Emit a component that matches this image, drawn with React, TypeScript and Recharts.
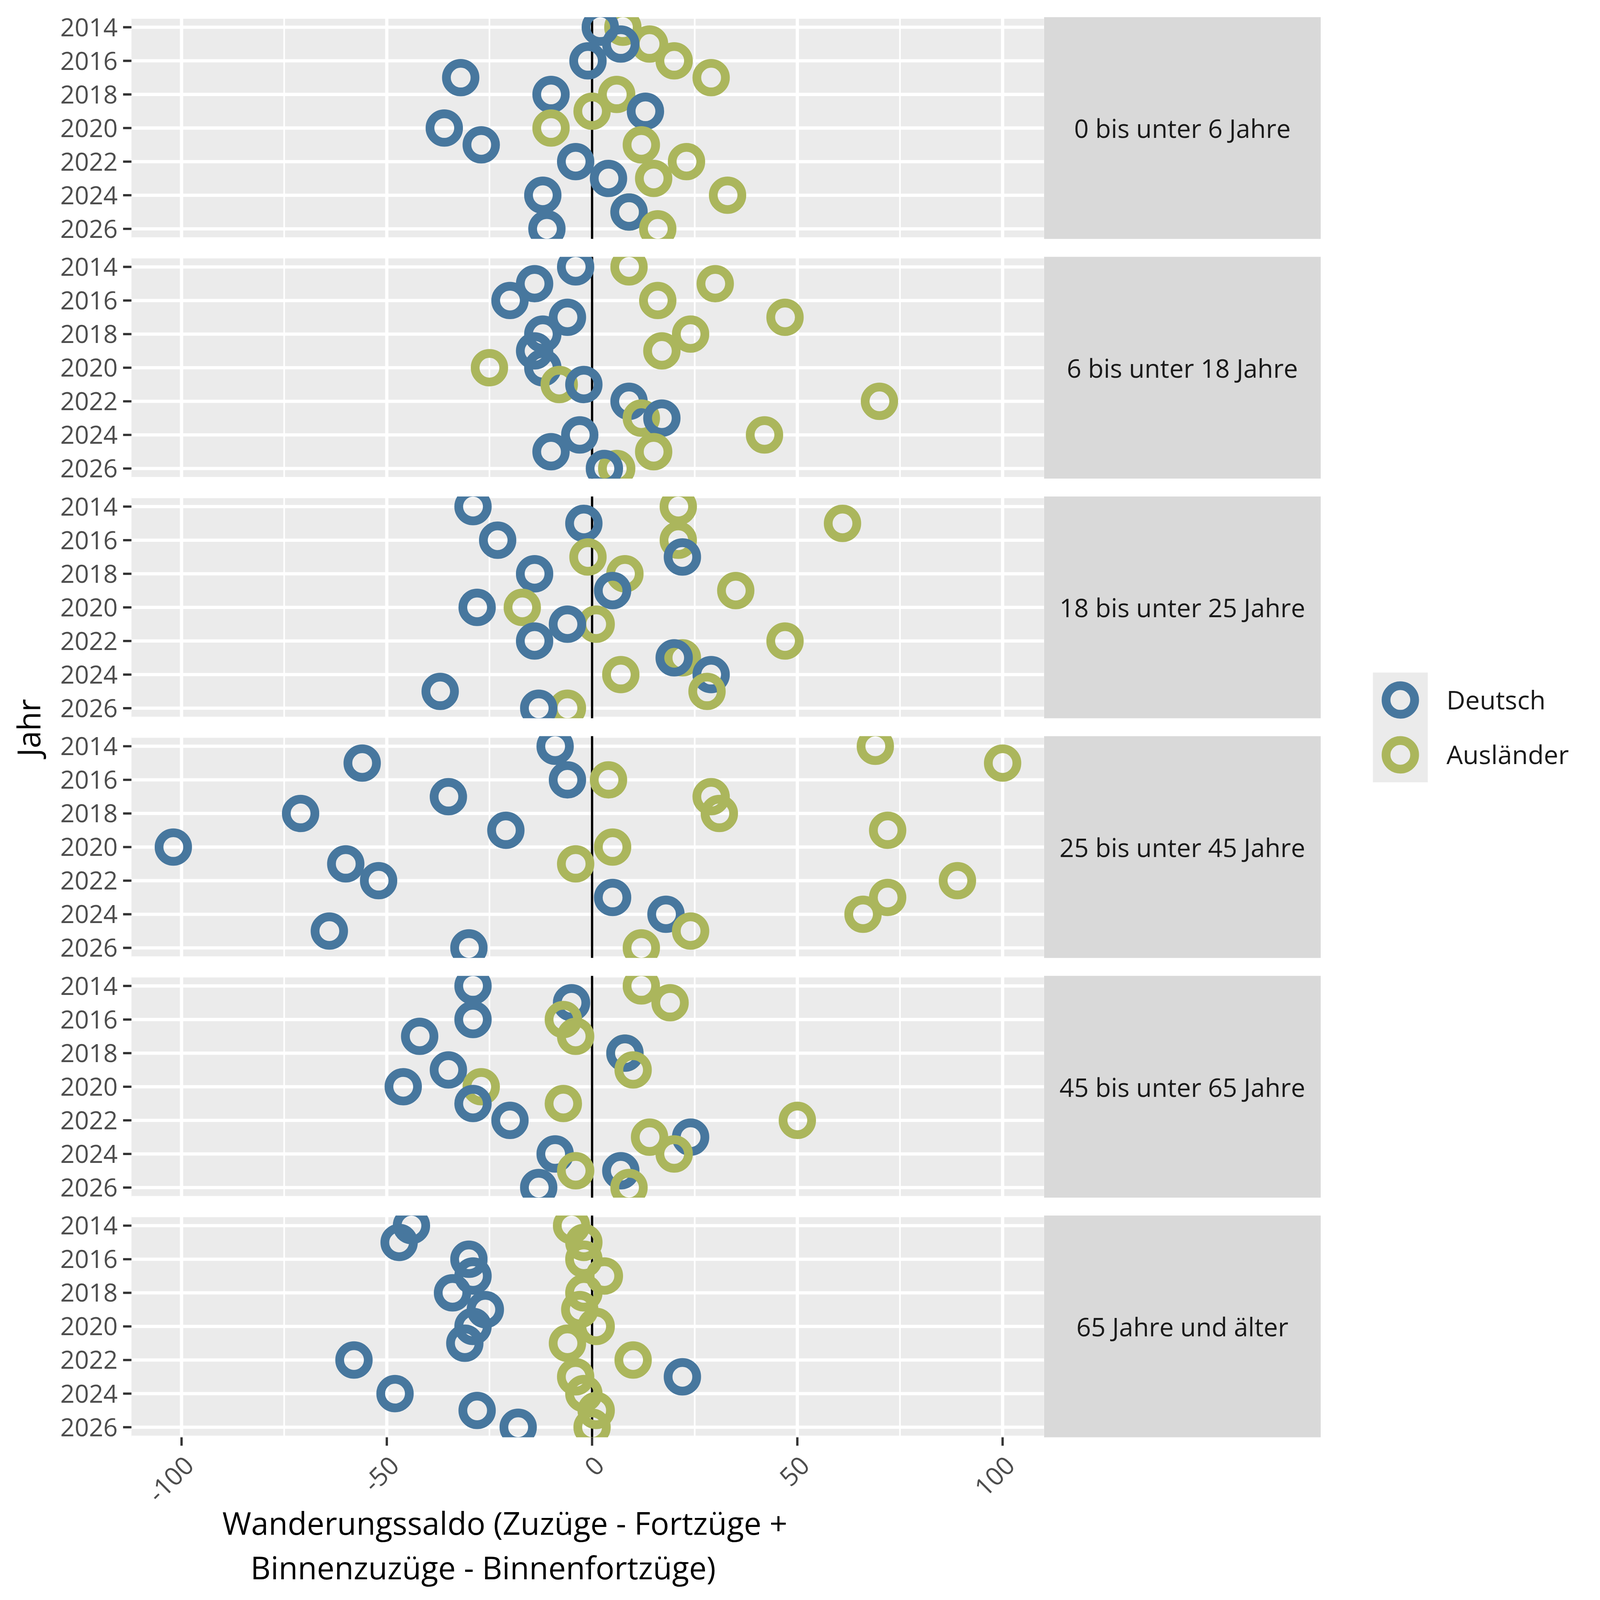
import { ScatterChart, Scatter, XAxis, YAxis, CartesianGrid, ReferenceLine } from 'recharts';

// Jahre (y-Achse) und Altersgruppen (Facetten)
const YEARS = [2014, 2015, 2016, 2017, 2018, 2019, 2020, 2021, 2022, 2023, 2024, 2025, 2026];
const Y_TICKS = [2014, 2016, 2018, 2020, 2022, 2024, 2026];
const X_TICKS = [-100, -50, 0, 50, 100];
const X_MINOR = [-75, -25, 25, 75];
const X_MAJOR_GRID = [-100, -50, 50, 100];

const AGE_GROUPS = [
  '0 bis unter 6 Jahre',
  '6 bis unter 18 Jahre',
  '18 bis unter 25 Jahre',
  '25 bis unter 45 Jahre',
  '45 bis unter 65 Jahre',
  '65 Jahre und älter',
];

// Wanderungssaldo je Jahr, Deutsche / Ausländer
const deutsch0to6 = [2, 7, -1, -32, -10, 13, -36, -27, -4, 4, -12, 9, -11];
const auslaender0to6 = [7.5, 14, 20, 29, 6, 0, -10, 12, 23, 15, 33, 9, 16];

const deutsch6to18 = [-4, -14, -20, -6, -12, -14, -12, -2, 9, 17, -3, -10, 3];
const auslaender6to18 = [9, 30, 16, 47, 24, 17, -25, -8, 70, 12, 42, 15, 6];

const deutsch18to25 = [-29, -2, -23, 22, -14, 5, -28, -6, -14, 20, 29, -37, -13];
const auslaender18to25 = [21, 61, 21, -1, 8, 35, -17, 1, 47, 22, 7, 28, -6];

const deutsch25to45 = [-9, -56, -6, -35, -71, -21, -102, -60, -52, 5, 18, -64, -30];
const auslaender25to45 = [69, 100, 4, 29, 31, 72, 5, -4, 89, 72, 66, 24, 12];

const deutsch45to65 = [-29, -5, -29, -42, 8, -35, -46, -29, -20, 24, -9, 7, -13];
const auslaender45to65 = [12, 19, -7, -4, 8, 10, -27, -7, 50, 14, 20, -4, 9];

const deutsch65plus = [-44, -47, -30, -29, -34, -26, -29, -31, -58, 22, -48, -28, -18];
const auslaender65plus = [-5, -2, -2, 3, -2, -3, 1, -6, 10, -4, -2, 1, 0];

const SERIES = [
  [deutsch0to6, auslaender0to6],
  [deutsch6to18, auslaender6to18],
  [deutsch18to25, auslaender18to25],
  [deutsch25to45, auslaender25to45],
  [deutsch45to65, auslaender45to65],
  [deutsch65plus, auslaender65plus],
];

const BLUE = '#47779E';
const GREEN = '#ABB65C';
const FONT = "'Open Sans', sans-serif";

// layout (px, in picture coordinates; the whole thing is scaled to fit the photographed area)
const FIT = 4097 / 4200;
const PANEL_TOP = 45;
const PANEL_STEP = 629;
const PANEL_H = 582;
const PAD = 40; // room above/below each panel so tick labels stay inside the svg
const PLOT_LEFT = 345;
const PLOT_RIGHT = 2740;
const STRIP_RIGHT = 3466;
const X_AXIS_H = 260;

// ggplot draws rows in order: year by year, Ausländer first, then Deutsch on top
function buildRows(d: number[], a: number[]) {
  return YEARS.flatMap((yr, i) => [
    { x: a[i], y: yr, nat: 'A' },
    { x: d[i], y: yr, nat: 'D' },
  ]);
}

const Ring = (props: any) => {
  const { cx, cy, payload } = props;
  if (cx == null || cy == null) return null;
  return (
    <circle cx={cx} cy={cy} r={37.5} fill="none"
      stroke={payload?.nat === 'D' ? BLUE : GREEN} strokeWidth={23} />
  );
};

const XTick = (props: any) => {
  const { x, y, payload } = props;
  const ax = x + 18;
  const ay = y + 38;
  return (
    <text x={ax} y={ay} transform={`rotate(-45, ${ax}, ${ay})`} textAnchor="end"
      dominantBaseline="central" fontSize={67} fill="#4D4D4D" fontFamily={FONT}>
      {payload.value}
    </text>
  );
};

function Panel({ idx }: { idx: number }) {
  const last = idx === AGE_GROUPS.length - 1;
  const [d, a] = SERIES[idx];
  const rows = buildRows(d, a);
  return (
    <div style={{ position: 'absolute', left: 0, top: PANEL_TOP + idx * PANEL_STEP - PAD }}>
      <ScatterChart width={PLOT_RIGHT} height={PAD + PANEL_H + (last ? X_AXIS_H : PAD)}
        margin={{ top: PAD, right: 0, bottom: last ? 0 : PAD, left: 0 }} style={{ overflow: 'visible' }}>
        <CartesianGrid fill="#EBEBEB" fillOpacity={1} vertical={false}
          stroke="#FFFFFF" strokeWidth={8.5} />
        <XAxis type="number" dataKey="x" domain={[-112.2, 110.1]} ticks={X_TICKS}
          allowDataOverflow hide={!last} height={X_AXIS_H} axisLine={false}
          tickSize={22} tickMargin={0} tickLine={{ stroke: '#333333', strokeWidth: 6 }}
          tick={<XTick />} interval={0} />
        <YAxis type="number" dataKey="y" domain={[2013.4, 2026.6]} ticks={Y_TICKS}
          reversed allowDataOverflow width={PLOT_LEFT} axisLine={false} interval={0}
          tickSize={22} tickMargin={14} tickLine={{ stroke: '#333333', strokeWidth: 6 }}
          tick={{ fontSize: 66, fill: '#4D4D4D', fontFamily: FONT }} />
        {X_MINOR.map(v => (
          <ReferenceLine key={`mi${v}`} x={v} stroke="#FFFFFF" strokeWidth={4.3} />
        ))}
        {X_MAJOR_GRID.map(v => (
          <ReferenceLine key={`ma${v}`} x={v} stroke="#FFFFFF" strokeWidth={8.5} />
        ))}
        <ReferenceLine x={0} stroke="#000000" strokeWidth={6} />
        <Scatter data={rows} shape={Ring} isAnimationActive={false} />
      </ScatterChart>
    </div>
  );
}

export default function App() {
  return (
    <div style={{ position: 'absolute', left: 0, top: 0, width: 4200, height: 4200,
      background: '#FFFFFF', fontFamily: FONT, transform: `scale(${FIT})`, transformOrigin: '0 0' }}>
      <svg width={4200} height={4200} style={{ position: 'absolute', left: 0, top: 0 }}>
        {AGE_GROUPS.map((g, i) => {
          const top = PANEL_TOP + i * PANEL_STEP;
          return (
            <g key={g}>
              <rect x={PLOT_RIGHT} y={top} width={STRIP_RIGHT - PLOT_RIGHT} height={PANEL_H} fill="#D9D9D9" />
              <text x={(PLOT_RIGHT + STRIP_RIGHT) / 2} y={top + PANEL_H / 2} textAnchor="middle"
                dominantBaseline="central" fontSize={67} fill="#1A1A1A" fontFamily={FONT}>{g}</text>
            </g>
          );
        })}
        <text x={0} y={0} transform="translate(74, 1910) rotate(-90)" textAnchor="middle"
          dominantBaseline="central" fontSize={82} fill="#000000" fontFamily={FONT}>Jahr</text>
        <text x={1325} y={4028} textAnchor="middle" fontSize={82} fill="#000000" fontFamily={FONT}>
          Wanderungssaldo (Zuzüge - Fortzüge +
        </text>
        <text x={1268} y={4145} textAnchor="middle" fontSize={82} fill="#000000" fontFamily={FONT}>
          Binnenzuzüge - Binnenfortzüge)
        </text>
        <rect x={3603} y={1765} width={144} height={288} fill="#EBEBEB" />
        <circle cx={3675} cy={1837} r={37.5} fill="none" stroke={BLUE} strokeWidth={23} />
        <circle cx={3675} cy={1981} r={37.5} fill="none" stroke={GREEN} strokeWidth={23} />
        <text x={3796} y={1862} fontSize={68} fill="#1A1A1A" fontFamily={FONT}>Deutsch</text>
        <text x={3796} y={2005} fontSize={68} fill="#1A1A1A" fontFamily={FONT}>Ausländer</text>
      </svg>
      {AGE_GROUPS.map((g, i) => <Panel key={g} idx={i} />)}
    </div>
  );
}
